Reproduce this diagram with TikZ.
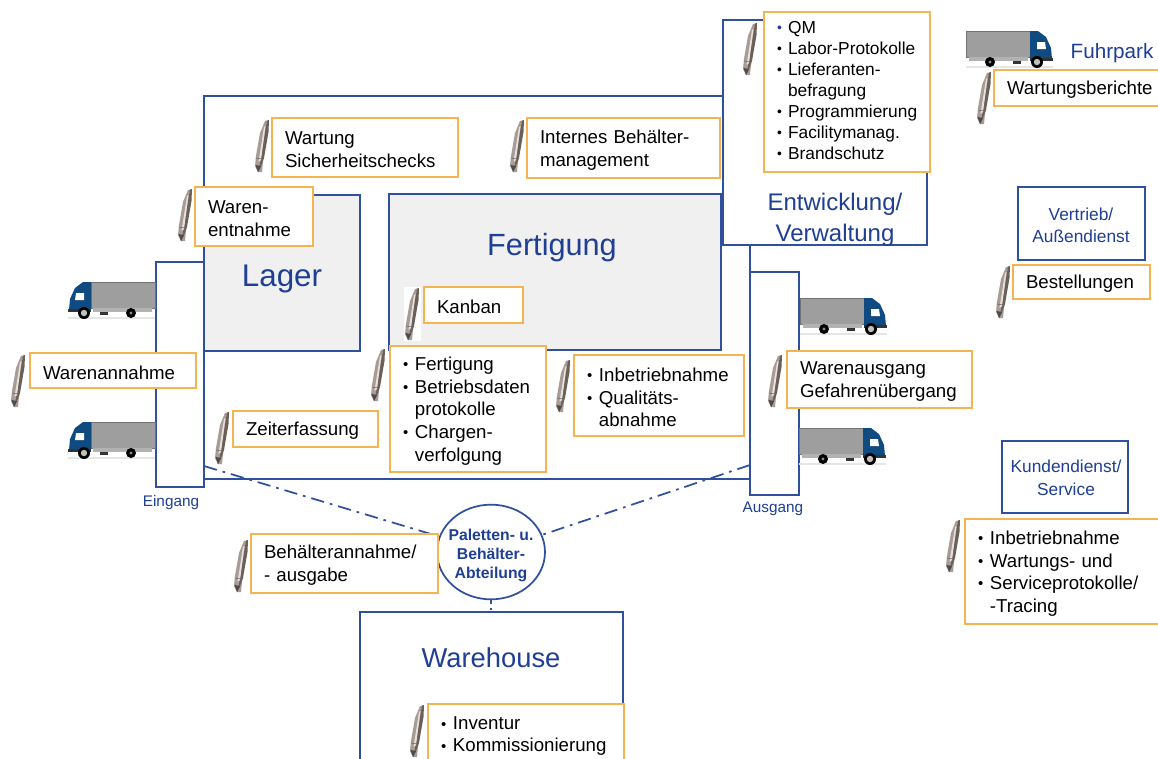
\documentclass[tikz,border=0pt]{standalone}
\usepackage{fontspec}
\setmainfont{Liberation Sans}
\usetikzlibrary{shapes.geometric}
\definecolor{bluel}{HTML}{2F4F9F}
\definecolor{bluet}{HTML}{1F3F95}
\definecolor{orangeb}{HTML}{F6B352}
\definecolor{greyf}{HTML}{F0F0F0}
\definecolor{cabblue}{HTML}{0F4A80}
\definecolor{penl}{HTML}{A89A94}
\definecolor{penm}{HTML}{E8E2DE}
\definecolor{penr}{HTML}{6B5F5A}
\newcommand{\bul}{\makebox[0.64em][l]{\raisebox{0.08ex}{\scalebox{0.8}{•}}}}
\newcommand{\ind}{\hspace*{0.64em}}
\newcommand{\fsz}[2]{\fontsize{#1}{#2}\selectfont}
% \pxbox[style]{name}{x1}{y1}{x2}{y2}{inset}{text}
\newcommand{\pxbox}[8][]{%
  \pgfmathsetmacro{\pxw}{(#5-#3)*0.75}%
  \pgfmathsetmacro{\pxh}{(#6-#4)*0.75}%
  \pgfmathsetmacro{\pxi}{#7*0.75}%
  \pgfmathsetmacro{\pxt}{(#5-#3-2*#7)*0.75}%
  \node[#1,minimum width=\pxw pt,minimum height=\pxh pt,text width=\pxt pt,inner xsep=\pxi pt,inner ysep=0pt]
    (#2) at ({(#3+#5)/2},{(#4+#6)/2}) {\rule{0pt}{0.95em}#8};}
\tikzset{
  x=0.75pt,y=-0.75pt,
  orangebox/.style={draw=orangeb,line width=1.5pt,fill=white,align=left,font=\fsz{14}{17.2},text=black},
  listbox/.style={draw=orangeb,line width=1.5pt,fill=white,align=left,text=black},
  bluebox/.style={draw=bluel,line width=1.2pt},
  whitebluebox/.style={bluebox,fill=white},
  greybox/.style={bluebox,fill=greyf},
  titletext/.style={text=bluet,align=center,inner sep=0pt},
  dashline/.style={draw=bluel,line width=1.3pt,dash pattern=on 10pt off 4.5pt on 2pt off 4.5pt},
  shortdash/.style={draw=bluel,line width=1.2pt,dash pattern=on 3pt off 3pt on 1.5pt off 3pt},
  truckr/.pic={
    \fill[black!10] (0,35) rectangle (87,37);
    \fill[black!38] (0,0) rectangle (64,26);
    \draw[black!55,line width=.4pt] (0,0) rectangle (64,26);
    \fill[black!30] (3,26) rectangle (62,30);
    \fill[cabblue] (64,28) -- (64,0) -- (72,0) -- (80,6) -- (85,17) -- (86,28) -- cycle;
    \fill[white] (71,11) -- (79,11) -- (80,18) -- (71,18) -- cycle;
    \fill[black!80] (64,27) rectangle (87,30);
    \fill[black!80] (47,30) rectangle (55,33);
    \fill[black] (24,31) circle (5);
    \fill[black!45] (24,31) circle (1.7);
    \fill[black] (71,31) circle (6);
    \fill[white!75!black] (71,31) circle (3.2);
  },
  penpic/.pic={
    \fill[penl] (10,1) -- (12,0.5) -- (7,52) -- (3,52) -- (0,46) -- (1,36) -- (5,13) -- cycle;
    \fill[penr] (12,0.5) -- (14,0) -- (13.5,12) -- (9,38) -- (6,46) -- (3,52) -- (5,44) -- (8,25) -- cycle;
    \fill[penm] (9,7) -- (10.5,6) -- (6,40) -- (3.5,42) -- cycle;
    \fill[black!70] (0.5,45) -- (6,46) -- (3,52) -- cycle;
    \draw[black!60,line width=.4pt] (0.8,38) -- (7.5,39);
  }
}
\begin{document}
\begin{tikzpicture}
\clip (0,0) rectangle (1158,758);
\useasboundingbox (0,0) rectangle (1158,758);
\fill[white] (0,0) rectangle (1158,758);

% main hall and its inner rooms
\pxbox[whitebluebox]{hall}{204}{96}{750}{479}{0}{}
\pxbox[greybox]{lagerroom}{204}{195}{360}{351}{0}{}
\pxbox[greybox]{fertroom}{389}{194}{721}{350}{0}{}
\pxbox[whitebluebox]{eingang}{156}{262}{204}{487}{0}{}
\pxbox[whitebluebox]{ausgang}{750}{272}{799}{495}{0}{}
\pxbox[whitebluebox]{entw}{723}{20}{927}{245}{0}{}
\pxbox[whitebluebox]{vertrieb}{1018}{187}{1145}{260}{0}{}
\pxbox[whitebluebox]{kunden}{1002}{441}{1128}{513}{0}{}
\pxbox[whitebluebox]{warehouse}{360}{612}{623}{790}{0}{}

% titles
\node[titletext,font=\fsz{23.5}{28}] (tlager) at (282,279) {Lager};
\node[titletext,font=\fsz{23}{27}] (tfert) at (552,248) {Fertigung};
\node[titletext,font=\fsz{18}{23}] (tentw) at (835,220) {Entwicklung/\\Verwaltung};
\node[titletext,font=\fsz{20.5}{24}] (tware) at (491,658) {Warehouse};
\node[titletext,font=\fsz{15.5}{18}] (tfuhr) at (1112,53) {Fuhrpark};
\node[titletext,font=\fsz{13}{16.5}] (tvert) at (1081,225) {Vertrieb/\\Außendienst};
\node[titletext,font=\fsz{13}{17}] (tkund) at (1066,478) {Kundendienst/\\Service};
\node[titletext,font=\fsz{11.5}{14}] (teing) at (171,503) {Eingang};
\node[titletext,font=\fsz{11.5}{14}] (taus) at (773,509) {Ausgang};

% pallet department and connectors
\node[draw=bluel,line width=1.3pt,fill=white,ellipse,minimum width=81pt,minimum height=71pt,inner xsep=-3.6pt,inner ysep=-6pt,
      text=bluet,align=center,font=\bfseries\fsz{11.8}{14.2}] (palette) at (491,552) {\rule{0pt}{14pt}Paletten- u.\\Behälter-\\Abteilung};
\coordinate (dl) at (204,466);
\coordinate (dr) at (750,465);
\draw[dashline] (dl) -- (palette);
\draw[dashline] (dr) -- (palette);
\draw[shortdash] (palette.south) -- (palette.south |- warehouse.north);

% trucks
\pic[xscale=-1] at (155,282) {truckr};
\pic[xscale=-1] at (155,422) {truckr};
\pic at (800,298) {truckr};
\pic at (799,428) {truckr};
\pic at (966,31) {truckr};

% note boxes
\pxbox[orangebox]{wartung}{272}{118}{458}{177}{13}{Wartung\\Sicherheitschecks}
\pxbox[orangebox]{internes}{527}{118}{720}{178}{13}{Internes Behälter-\\management}
\pxbox[orangebox]{entnahme}{195}{187}{313}{246}{13}{Waren-\\entnahme}
\pxbox[orangebox]{kanban}{424}{287}{523}{323}{13}{Kanban}
\pxbox[orangebox]{zeit}{233}{411}{378}{447}{13}{Zeiterfassung}
\pxbox[orangebox]{annahme}{30}{353}{196}{388}{13}{Warenannahme}
\pxbox[orangebox]{ausgabe}{787}{351}{972}{408}{13}{Warenausgang\\Gefahrenübergang}
\pxbox[orangebox]{behaelter}{251}{534}{438}{593}{13}{Behälterannahme/\\- ausgabe}
\pxbox[orangebox]{berichte}{994}{70}{1170}{106}{13}{Wartungsberichte}
\pxbox[orangebox]{bestell}{1013}{265}{1150}{299}{13}{Bestellungen}
\pxbox[listbox,font=\fsz{13}{15.7}]{qm}{764}{12}{930}{172}{13}{{\color{bluet}\bul}QM\\\bul Labor-Protokolle\\\bul Lieferanten-\\\ind befragung\\\bul Programmierung\\\bul Facilitymanag.\\\bul Brandschutz\rule[-5.7pt]{0pt}{5.7pt}}
\pxbox[listbox,font=\fsz{14}{17.1}]{fertlist}{390}{346}{546}{472}{13}{\bul Fertigung\\\bul Betriebsdaten\\\ind protokolle\\\bul Chargen-\\\ind verfolgung}
\pxbox[listbox,font=\fsz{14}{17}]{qual}{574}{355}{744}{436}{13}{\bul Inbetriebnahme\\\bul Qualitäts-\\\ind abnahme}
\pxbox[listbox,font=\fsz{14}{17}]{service}{965}{519}{1170}{624}{13}{\bul Inbetriebnahme\\\bul Wartungs- und\\\bul Serviceprotokolle/\\\ind -Tracing}
\pxbox[listbox,font=\fsz{14}{16.5}]{inventur}{428}{704}{624}{782}{13}{\bul Inventur\\\bul Kommissionierung\\\ }

% pens
\fill[white] (404,287) rectangle (421,341);
\pic at (178,189) {penpic};
\pic at (255,120) {penpic};
\pic at (510,120) {penpic};
\pic at (743,23) {penpic};
\pic at (977,72) {penpic};
\pic at (996,266) {penpic};
\pic at (405,288) {penpic};
\pic at (371,349) {penpic};
\pic at (556,360) {penpic};
\pic at (215,412) {penpic};
\pic at (11,355) {penpic};
\pic at (768,355) {penpic};
\pic at (234,540) {penpic};
\pic at (946,520) {penpic};
\pic at (410,705) {penpic};
\end{tikzpicture}
\end{document}
